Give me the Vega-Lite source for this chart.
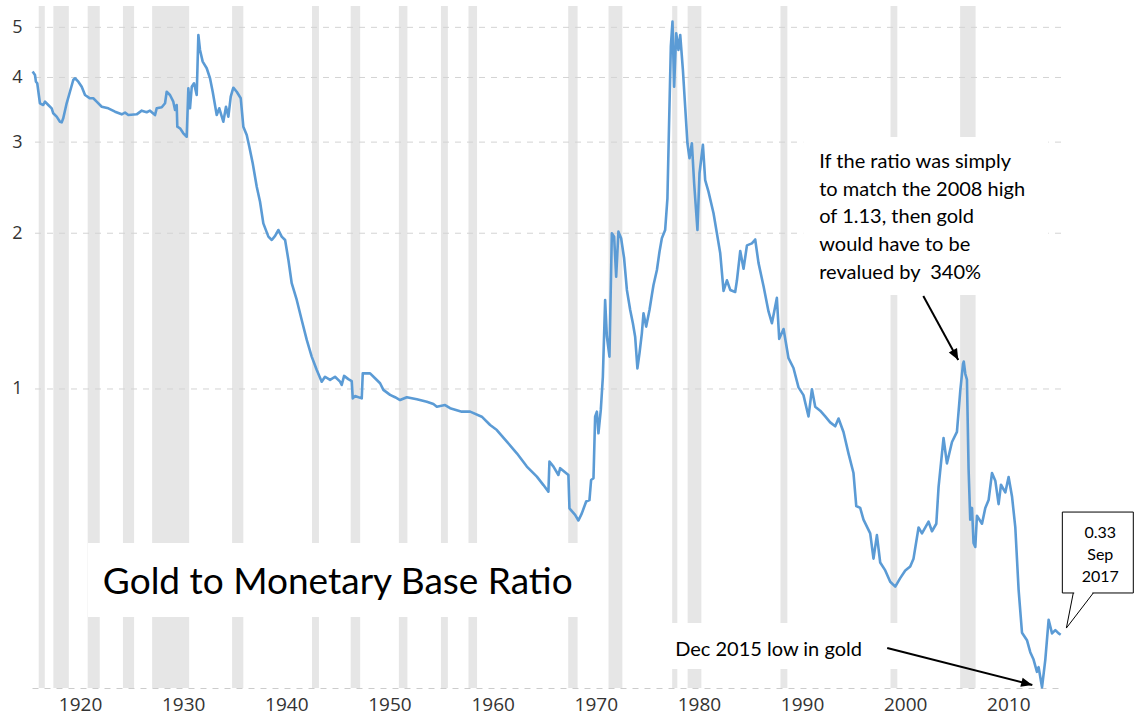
{
  "$schema": "https://vega.github.io/schema/vega-lite/v6.json",
  "width": 1029,
  "height": 682,
  "autosize": {"type": "none"},
  "padding": {"left": 32, "top": 6, "right": 74, "bottom": 32},
  "background": "white",
  "config": {
    "view": {"stroke": null},
    "axisX": {"grid": false, "ticks": false, "domain": true, "domainColor": "#cccccc", "domainDash": [6,6],
              "labelAlign": "left", "labelOffset": 5, "labelPadding": 7, "labelFlush": false, "labelOverlap": false,
              "labelFont": "Open Sans", "labelFontSize": 19, "labelColor": "#333333"},
    "axisY": {"grid": false, "ticks": false, "domain": false, "labelPadding": 10, "labelFont": "Open Sans",
              "labelFontSize": 18, "labelColor": "#333333", "labelOverlap": false, "labelFlush": false}
  },
  "datasets": {
    "ratio": [
      {"t":1917.99,"v":4.106},{"t":1918.22,"v":4.045},{"t":1918.31,"v":3.926},{"t":1918.44,"v":3.898},{"t":1918.70,"v":3.566},
      {"t":1919.02,"v":3.539},{"t":1919.19,"v":3.592},{"t":1919.51,"v":3.539},{"t":1919.84,"v":3.487},{"t":1919.99,"v":3.411},
      {"t":1920.32,"v":3.360},{"t":1920.64,"v":3.285},{"t":1920.81,"v":3.276},{"t":1920.96,"v":3.336},{"t":1921.29,"v":3.566},
      {"t":1921.61,"v":3.754},{"t":1921.93,"v":3.955},{"t":1922.10,"v":3.986},{"t":1922.42,"v":3.926},{"t":1922.75,"v":3.838},
      {"t":1923.07,"v":3.700},{"t":1923.55,"v":3.646},{"t":1923.87,"v":3.646},{"t":1924.20,"v":3.592},{"t":1924.69,"v":3.512},
      {"t":1925.33,"v":3.487},{"t":1925.98,"v":3.435},{"t":1926.63,"v":3.395},{"t":1926.95,"v":3.420},{"t":1927.27,"v":3.384},
      {"t":1928.08,"v":3.395},{"t":1928.57,"v":3.451},{"t":1929.05,"v":3.426},{"t":1929.37,"v":3.451},{"t":1929.86,"v":3.384},
      {"t":1930.02,"v":3.487},{"t":1930.51,"v":3.503},{"t":1930.83,"v":3.566},{"t":1930.99,"v":3.754},{"t":1931.31,"v":3.700},
      {"t":1931.63,"v":3.592},{"t":1931.80,"v":3.461},{"t":1931.96,"v":3.539},{"t":1932.02,"v":3.213},{"t":1932.28,"v":3.190},
      {"t":1932.60,"v":3.120},{"t":1932.93,"v":3.073},{"t":1933.09,"v":3.812},{"t":1933.25,"v":3.487},{"t":1933.42,"v":3.838},
      {"t":1933.64,"v":3.898},{"t":1933.90,"v":3.700},{"t":1934.06,"v":4.833},{"t":1934.22,"v":4.521},{"t":1934.48,"v":4.292},
      {"t":1934.87,"v":4.168},{"t":1935.19,"v":3.986},{"t":1935.45,"v":3.754},{"t":1935.84,"v":3.384},{"t":1936.09,"v":3.487},
      {"t":1936.48,"v":3.285},{"t":1936.74,"v":3.512},{"t":1936.97,"v":3.360},{"t":1937.20,"v":3.672},{"t":1937.45,"v":3.822},
      {"t":1937.78,"v":3.754},{"t":1938.17,"v":3.646},{"t":1938.42,"v":3.213},{"t":1938.75,"v":3.097},{"t":1939.00,"v":2.940},
      {"t":1939.33,"v":2.731},{"t":1939.72,"v":2.460},{"t":1940.04,"v":2.301},{"t":1940.36,"v":2.090},{"t":1940.85,"v":1.970},
      {"t":1941.18,"v":1.941},{"t":1941.50,"v":1.976},{"t":1941.82,"v":2.029},{"t":1942.14,"v":1.970},{"t":1942.47,"v":1.941},
      {"t":1942.79,"v":1.776},{"t":1943.11,"v":1.601},{"t":1943.60,"v":1.486},{"t":1944.08,"v":1.359},{"t":1944.57,"v":1.244},
      {"t":1945.05,"v":1.155},{"t":1945.54,"v":1.088},{"t":1946.02,"v":1.033},{"t":1946.34,"v":1.056},{"t":1946.83,"v":1.041},
      {"t":1947.31,"v":1.056},{"t":1947.80,"v":1.033},{"t":1947.96,"v":1.018},{"t":1948.19,"v":1.060},{"t":1948.60,"v":1.045},
      {"t":1948.93,"v":1.036},{"t":1949.03,"v":0.959},{"t":1949.25,"v":0.969},{"t":1949.90,"v":0.959},{"t":1950.00,"v":1.072},
      {"t":1950.71,"v":1.072},{"t":1951.19,"v":1.049},{"t":1951.68,"v":1.026},{"t":1952.00,"v":0.996},{"t":1952.65,"v":0.974},
      {"t":1953.13,"v":0.964},{"t":1953.62,"v":0.952},{"t":1954.27,"v":0.964},{"t":1955.24,"v":0.955},{"t":1956.21,"v":0.945},
      {"t":1956.85,"v":0.935},{"t":1957.18,"v":0.924},{"t":1957.98,"v":0.931},{"t":1958.47,"v":0.918},{"t":1959.60,"v":0.904},
      {"t":1960.41,"v":0.904},{"t":1961.54,"v":0.884},{"t":1962.35,"v":0.852},{"t":1963.00,"v":0.833},{"t":1963.97,"v":0.791},
      {"t":1964.94,"v":0.751},{"t":1965.91,"v":0.708},{"t":1966.88,"v":0.677},{"t":1967.52,"v":0.652},{"t":1968.00,"v":0.633},
      {"t":1968.10,"v":0.724},{"t":1968.49,"v":0.708},{"t":1968.97,"v":0.682},{"t":1969.14,"v":0.703},{"t":1969.94,"v":0.682},
      {"t":1970.04,"v":0.588},{"t":1970.59,"v":0.571},{"t":1970.91,"v":0.557},{"t":1971.24,"v":0.575},{"t":1971.66,"v":0.606},
      {"t":1971.98,"v":0.610},{"t":1972.14,"v":0.667},{"t":1972.37,"v":0.672},{"t":1972.53,"v":0.884},{"t":1972.70,"v":0.904},
      {"t":1972.85,"v":0.821},{"t":1973.08,"v":0.911},{"t":1973.28,"v":1.056},{"t":1973.50,"v":1.486},{"t":1973.67,"v":1.262},
      {"t":1973.92,"v":1.155},{"t":1974.15,"v":2.000},{"t":1974.37,"v":1.970},{"t":1974.57,"v":1.648},{"t":1974.79,"v":2.014},
      {"t":1975.05,"v":1.956},{"t":1975.34,"v":1.789},{"t":1975.61,"v":1.554},{"t":1975.93,"v":1.421},{"t":1976.19,"v":1.340},
      {"t":1976.41,"v":1.262},{"t":1976.63,"v":1.096},{"t":1976.83,"v":1.172},{"t":1977.06,"v":1.281},{"t":1977.22,"v":1.400},
      {"t":1977.48,"v":1.320},{"t":1977.80,"v":1.421},{"t":1978.03,"v":1.519},{"t":1978.19,"v":1.589},{"t":1978.52,"v":1.698},
      {"t":1978.77,"v":1.842},{"t":1979.00,"v":1.956},{"t":1979.32,"v":2.029},{"t":1979.54,"v":2.336},{"t":1979.66,"v":3.002},
      {"t":1979.87,"v":4.587},{"t":1980.03,"v":5.128},{"t":1980.19,"v":3.838},{"t":1980.39,"v":4.870},{"t":1980.61,"v":4.521},
      {"t":1980.78,"v":4.833},{"t":1981.04,"v":4.137},{"t":1981.26,"v":3.512},{"t":1981.48,"v":2.985},{"t":1981.68,"v":2.792},
      {"t":1981.91,"v":2.985},{"t":1982.13,"v":2.498},{"t":1982.45,"v":2.029},{"t":1982.65,"v":2.612},{"t":1982.98,"v":2.963},
      {"t":1983.20,"v":2.534},{"t":1983.52,"v":2.407},{"t":1984.01,"v":2.186},{"t":1984.66,"v":1.829},{"t":1984.98,"v":1.547},
      {"t":1985.31,"v":1.622},{"t":1985.63,"v":1.554},{"t":1986.11,"v":1.540},{"t":1986.28,"v":1.622},{"t":1986.60,"v":1.848},
      {"t":1986.92,"v":1.708},{"t":1987.25,"v":1.895},{"t":1987.73,"v":1.912},{"t":1988.05,"v":1.945},{"t":1988.37,"v":1.753},
      {"t":1988.86,"v":1.580},{"t":1989.34,"v":1.412},{"t":1989.67,"v":1.340},{"t":1990.15,"v":1.500},{"t":1990.38,"v":1.250},
      {"t":1990.80,"v":1.306},{"t":1991.28,"v":1.147},{"t":1991.76,"v":1.098},{"t":1992.25,"v":1.007},{"t":1992.73,"v":0.973},
      {"t":1993.22,"v":0.885},{"t":1993.55,"v":0.999},{"t":1993.87,"v":0.924},{"t":1994.35,"v":0.908},{"t":1994.84,"v":0.885},
      {"t":1995.32,"v":0.862},{"t":1995.81,"v":0.847},{"t":1996.13,"v":0.877},{"t":1996.61,"v":0.826},{"t":1997.10,"v":0.750},
      {"t":1997.58,"v":0.688},{"t":1997.85,"v":0.594},{"t":1998.23,"v":0.589},{"t":1998.55,"v":0.559},{"t":1999.20,"v":0.526},
      {"t":1999.52,"v":0.470},{"t":1999.85,"v":0.522},{"t":2000.17,"v":0.462},{"t":2000.66,"v":0.446},{"t":2001.14,"v":0.424},
      {"t":2001.63,"v":0.415},{"t":2002.11,"v":0.431},{"t":2002.60,"v":0.446},{"t":2003.08,"v":0.454},{"t":2003.40,"v":0.470},
      {"t":2003.89,"v":0.540},{"t":2004.22,"v":0.526},{"t":2004.86,"v":0.554},{"t":2005.19,"v":0.531},{"t":2005.61,"v":0.549},
      {"t":2005.83,"v":0.647},{"t":2006.31,"v":0.804},{"t":2006.64,"v":0.718},{"t":2007.13,"v":0.790},{"t":2007.61,"v":0.826},
      {"t":2007.93,"v":0.990},{"t":2008.20,"v":1.118},{"t":2008.27,"v":1.130},{"t":2008.42,"v":1.070},{"t":2008.58,"v":1.043},
      {"t":2008.74,"v":0.700},{"t":2008.90,"v":0.559},{"t":2009.07,"v":0.589},{"t":2009.22,"v":0.504},{"t":2009.39,"v":0.495},
      {"t":2009.55,"v":0.569},{"t":2010.04,"v":0.549},{"t":2010.36,"v":0.589},{"t":2010.68,"v":0.610},{"t":2011.01,"v":0.688},
      {"t":2011.33,"v":0.665},{"t":2011.65,"v":0.599},{"t":2011.88,"v":0.653},{"t":2012.30,"v":0.631},{"t":2012.62,"v":0.676},
      {"t":2012.95,"v":0.620},{"t":2013.27,"v":0.540},{"t":2013.59,"v":0.409},{"t":2013.92,"v":0.338},{"t":2014.40,"v":0.327},
      {"t":2014.72,"v":0.310},{"t":2015.04,"v":0.300},{"t":2015.37,"v":0.284},{"t":2015.53,"v":0.290},{"t":2015.86,"v":0.265},
      {"t":2016.18,"v":0.300},{"t":2016.50,"v":0.358},{"t":2016.83,"v":0.337},{"t":2017.15,"v":0.342},{"t":2017.47,"v":0.337},
      {"t":2017.67,"v":0.335}
    ],
    "recessions": [
      {"s":1918.58,"e":1919.17},{"s":1920.0,"e":1921.5},{"s":1923.33,"e":1924.5},{"s":1926.75,"e":1927.83},
      {"s":1929.58,"e":1933.17},{"s":1937.33,"e":1938.42},{"s":1945.08,"e":1945.75},{"s":1948.83,"e":1949.75},
      {"s":1953.5,"e":1954.33},{"s":1957.58,"e":1958.25},{"s":1960.25,"e":1961.08},{"s":1969.92,"e":1970.83},
      {"s":1973.83,"e":1975.17},{"s":1980.0,"e":1980.5},{"s":1981.5,"e":1982.83},{"s":1990.5,"e":1991.17},
      {"s":2001.17,"e":2001.83},{"s":2007.92,"e":2009.42}
    ],
    "grid": [{"g":1},{"g":2},{"g":3},{"g":4},{"g":5}],
    "boxes": [
      {"x1":1923.36,"x2":1973.02,"y1":0.504,"y2":0.3624},
      {"x1":1992.71,"x2":2016.47,"y1":3.07,"y2":1.519},
      {"x1":1979.22,"x2":2002.6,"y1":0.3529,"y2":0.2875}
    ],
    "notes": [
      {"x":1994.26,"y":2.746,"text":"If the ratio was simply"},
      {"x":1994.26,"y":2.428,"text":"to match the 2008 high"},
      {"x":1994.26,"y":2.146,"text":"of 1.13, then gold"},
      {"x":1994.26,"y":1.897,"text":"would have to be"},
      {"x":1994.26,"y":1.677,"text":"revalued by \u00a0340%"},
      {"x":1980.29,"y":0.313,"text":"Dec 2015 low in gold"}
    ],
    "title": [{"x":1924.8,"y":0.4217,"text":"Gold to Monetary Base Ratio"}],
    "arrows": [
      {"id":"a","x1":2004.35,"y1":1.512,"x2":2007.74,"y2":1.138},
      {"id":"b","x1":2000.85,"y1":0.3158,"x2":2014.92,"y2":0.2679}
    ],
    "callout": [{"x1":2017.83,"x2":2024.71,"y1":0.5783,"y2":0.4034}],
    "pointer": [
      {"x1":2018.89,"y1":0.4034,"x2":2018.22,"y2":0.3451},
      {"x1":2020.83,"y1":0.4034,"x2":2018.22,"y2":0.3451}
    ],
    "gap": [{"x1":2018.98,"x2":2020.74,"y":0.4034}],
    "calloutText": [
      {"x":2021.51,"y":0.5267,"text":"0.33"},
      {"x":2021.51,"y":0.4777,"text":"Sep"},
      {"x":2021.51,"y":0.4331,"text":"2017"}
    ]
  },
  "layer": [
    {
      "data": {"name": "recessions"},
      "mark": {"type": "rect", "color": "#e6e6e6"},
      "encoding": {
        "x": {"field": "s", "type": "quantitative",
              "scale": {"domain": [1917.93, 2017.7], "zero": false, "nice": false},
              "axis": {"values": [1920,1930,1940,1950,1960,1970,1980,1990,2000,2010], "format": "d", "title": null}},
        "x2": {"field": "e"}
      }
    },
    {
      "data": {"name": "grid"},
      "mark": {"type": "rule", "color": "#d3d3d3", "strokeDash": [6,6], "strokeWidth": 1},
      "encoding": {
        "y": {"field": "g", "type": "quantitative",
              "scale": {"type": "log", "domain": [0.2643, 5.498], "nice": false},
              "axis": {"values": [1,2,3,4,5], "format": "d", "title": null}}
      }
    },
    {
      "data": {"name": "boxes"},
      "mark": {"type": "rect", "color": "white"},
      "encoding": {
        "x": {"field": "x1", "type": "quantitative", "axis": {"values": [1920,1930,1940,1950,1960,1970,1980,1990,2000,2010], "format": "d", "title": null}},
        "x2": {"field": "x2"},
        "y": {"field": "y1", "type": "quantitative", "axis": {"values": [1,2,3,4,5], "format": "d", "title": null}},
        "y2": {"field": "y2"}
      }
    },
    {
      "data": {"name": "ratio"},
      "mark": {"type": "line", "color": "#5b9bd5", "strokeWidth": 2.6, "strokeJoin": "round"},
      "encoding": {
        "x": {"field": "t", "type": "quantitative", "axis": {"values": [1920,1930,1940,1950,1960,1970,1980,1990,2000,2010], "format": "d", "title": null}},
        "y": {"field": "v", "type": "quantitative", "axis": {"values": [1,2,3,4,5], "format": "d", "title": null}}
      }
    },
    {
      "data": {"name": "title"},
      "mark": {"type": "text", "font": "Lato", "fontSize": 37, "align": "left", "baseline": "middle", "color": "black"},
      "encoding": {
        "x": {"field": "x", "type": "quantitative", "axis": {"values": [1920,1930,1940,1950,1960,1970,1980,1990,2000,2010], "format": "d", "title": null}},
        "y": {"field": "y", "type": "quantitative", "axis": {"values": [1,2,3,4,5], "format": "d", "title": null}},
        "text": {"field": "text"}
      }
    },
    {
      "data": {"name": "notes"},
      "mark": {"type": "text", "font": "Lato", "fontSize": 20, "align": "left", "baseline": "middle", "color": "black"},
      "encoding": {
        "x": {"field": "x", "type": "quantitative", "axis": {"values": [1920,1930,1940,1950,1960,1970,1980,1990,2000,2010], "format": "d", "title": null}},
        "y": {"field": "y", "type": "quantitative", "axis": {"values": [1,2,3,4,5], "format": "d", "title": null}},
        "text": {"field": "text"}
      }
    },
    {
      "data": {"name": "arrows"},
      "mark": {"type": "rule", "color": "black", "strokeWidth": 2},
      "encoding": {
        "x": {"field": "x1", "type": "quantitative", "axis": {"values": [1920,1930,1940,1950,1960,1970,1980,1990,2000,2010], "format": "d", "title": null}},
        "y": {"field": "y1", "type": "quantitative", "axis": {"values": [1,2,3,4,5], "format": "d", "title": null}},
        "x2": {"field": "x2"},
        "y2": {"field": "y2"}
      }
    },
    {
      "data": {"name": "arrows"},
      "transform": [{"filter": "datum.id === 'a'"}],
      "mark": {"type": "point", "shape": "M0,0 L-1,-0.42 L-1,0.42 Z", "filled": true, "color": "black", "opacity": 1, "size": 500, "angle": 61.3},
      "encoding": {
        "x": {"field": "x2", "type": "quantitative", "axis": {"values": [1920,1930,1940,1950,1960,1970,1980,1990,2000,2010], "format": "d", "title": null}},
        "y": {"field": "y2", "type": "quantitative", "axis": {"values": [1,2,3,4,5], "format": "d", "title": null}}
      }
    },
    {
      "data": {"name": "arrows"},
      "transform": [{"filter": "datum.id === 'b'"}],
      "mark": {"type": "point", "shape": "M0,0 L-1,-0.42 L-1,0.42 Z", "filled": true, "color": "black", "opacity": 1, "size": 500, "angle": 14.3},
      "encoding": {
        "x": {"field": "x2", "type": "quantitative", "axis": {"values": [1920,1930,1940,1950,1960,1970,1980,1990,2000,2010], "format": "d", "title": null}},
        "y": {"field": "y2", "type": "quantitative", "axis": {"values": [1,2,3,4,5], "format": "d", "title": null}}
      }
    },
    {
      "data": {"name": "callout"},
      "mark": {"type": "rect", "fill": "white", "stroke": "black", "strokeWidth": 1},
      "encoding": {
        "x": {"field": "x1", "type": "quantitative", "axis": {"values": [1920,1930,1940,1950,1960,1970,1980,1990,2000,2010], "format": "d", "title": null}},
        "x2": {"field": "x2"},
        "y": {"field": "y1", "type": "quantitative", "axis": {"values": [1,2,3,4,5], "format": "d", "title": null}},
        "y2": {"field": "y2"}
      }
    },
    {
      "data": {"name": "gap"},
      "mark": {"type": "rule", "color": "white", "strokeWidth": 2},
      "encoding": {
        "x": {"field": "x1", "type": "quantitative", "axis": {"values": [1920,1930,1940,1950,1960,1970,1980,1990,2000,2010], "format": "d", "title": null}},
        "x2": {"field": "x2"},
        "y": {"field": "y", "type": "quantitative", "axis": {"values": [1,2,3,4,5], "format": "d", "title": null}}
      }
    },
    {
      "data": {"name": "pointer"},
      "mark": {"type": "rule", "color": "black", "strokeWidth": 1},
      "encoding": {
        "x": {"field": "x1", "type": "quantitative", "axis": {"values": [1920,1930,1940,1950,1960,1970,1980,1990,2000,2010], "format": "d", "title": null}},
        "y": {"field": "y1", "type": "quantitative", "axis": {"values": [1,2,3,4,5], "format": "d", "title": null}},
        "x2": {"field": "x2"},
        "y2": {"field": "y2"}
      }
    },
    {
      "data": {"name": "calloutText"},
      "mark": {"type": "text", "font": "Lato", "fontSize": 16, "align": "center", "baseline": "middle", "color": "black"},
      "encoding": {
        "x": {"field": "x", "type": "quantitative", "axis": {"values": [1920,1930,1940,1950,1960,1970,1980,1990,2000,2010], "format": "d", "title": null}},
        "y": {"field": "y", "type": "quantitative", "axis": {"values": [1,2,3,4,5], "format": "d", "title": null}},
        "text": {"field": "text"}
      }
    }
  ]
}
